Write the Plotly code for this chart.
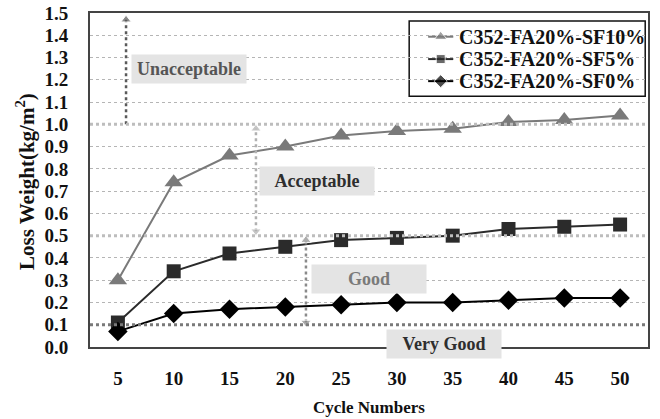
import plotly.graph_objects as go

cycles = [5, 10, 15, 20, 25, 30, 35, 40, 45, 50]
sf10 = [0.30, 0.74, 0.86, 0.90, 0.95, 0.97, 0.98, 1.01, 1.02, 1.04]
sf5 = [0.11, 0.34, 0.42, 0.45, 0.48, 0.49, 0.50, 0.53, 0.54, 0.55]
sf0 = [0.07, 0.15, 0.17, 0.18, 0.19, 0.20, 0.20, 0.21, 0.22, 0.22]
names = ["C352-FA20%-SF10%", "C352-FA20%-SF5%", "C352-FA20%-SF0%"]
y_ticks = [round(i * 0.1, 1) for i in range(16)]
thresholds = [1.0, 0.5, 0.1]
threshold_colors = ["#bdbdbd", "#bdbdbd", "#7a7a7a"]

# region labels: text, x-center, y-center, text colour
region_labels = ["Unacceptable", "Acceptable", "Good", "Very Good"]
region_x = [11.4, 22.8, 27.5, 34.2]
region_y = [1.25, 0.745, 0.305, 0.015]
region_col = ["#555555", "#2e2e2e", "#7a7a7a", "#2e2e2e"]

# dotted arrows: x, y-from, y-to, colour, heads
arrow_x = [5.73, 17.37, 21.85]
arrow_y0 = [1.0, 0.52, 0.11]
arrow_y1 = [1.47, 0.98, 0.48]
arrow_col = ["#5a5a5a", "#b0b0b0", "#8a8a8a"]
arrow_double = [False, True, True]

FONT = "Liberation Serif"
series_style = [
    ("triangle-up", "#7a7a7a", 16, 11),
    ("square", "#2b2b2b", 14, 9),
    ("diamond", "#000000", 15, 10),
]

fig = go.Figure()

for ys, nm, (sym, col, sz, _) in zip([sf10, sf5, sf0], names, series_style):
    fig.add_trace(go.Scatter(
        x=cycles, y=ys, name=nm, mode="lines+markers",
        line=dict(color=col, width=2),
        marker=dict(symbol=sym, size=sz, color=col),
        cliponaxis=False, showlegend=False,
    ))

for ax, a0, a1, c, dbl in zip(arrow_x, arrow_y0, arrow_y1, arrow_col, arrow_double):
    fig.add_trace(go.Scatter(
        x=[ax, ax], y=[a0, a1], mode="lines+markers", showlegend=False,
        line=dict(color=c, width=2.5, dash="dot"),
        marker=dict(symbol=["triangle-down" if dbl else "circle", "triangle-up"],
                    size=[9 if dbl else 0, 9], color=c),
        hoverinfo="skip",
    ))

for t, c in zip(thresholds, threshold_colors):
    fig.add_shape(type="line", xref="x domain", yref="y", x0=0, x1=1, y0=t, y1=t,
                  line=dict(color=c, width=3, dash="dot"), layer="above")

for txt, rx, ry, rc in zip(region_labels, region_x, region_y, region_col):
    fig.add_annotation(x=rx, y=ry, xref="x", yref="y", text=txt, showarrow=False,
                       bgcolor="#e4e4e4", width=110, height=24, borderpad=2,
                       font=dict(family=FONT, size=18, color=rc, weight="bold"))

# ---- hand-built legend (paper-fraction overlay axes) ----
leg_x0, leg_x1, leg_y0, leg_y1 = 0.572, 0.995, 0.751, 0.976
leg_rows = [0.929, 0.862, 0.796]
samp_x0, samp_x1, txt_x = 0.606, 0.651, 0.658
fig.add_shape(type="rect", xref="paper", yref="paper",
              x0=leg_x0, x1=leg_x1, y0=leg_y0, y1=leg_y1,
              line=dict(color="#111111", width=1.5), fillcolor="white", layer="between")
for nm, ry, (sym, col, _, lsz) in zip(names, leg_rows, series_style):
    fig.add_trace(go.Scatter(
        x=[samp_x0, (samp_x0 + samp_x1) / 2, samp_x1], y=[ry, ry, ry],
        xaxis="x2", yaxis="y2", mode="lines+markers", showlegend=False,
        line=dict(color=col, width=2),
        marker=dict(symbol=sym, size=[0, lsz, 0], color=col), hoverinfo="skip",
    ))
    fig.add_annotation(x=txt_x, y=ry, xref="paper", yref="paper", text=nm,
                       showarrow=False, xanchor="left", yanchor="middle",
                       font=dict(family=FONT, size=20, color="#111111", weight="bold"))

# axis titles
fig.add_annotation(x=0.5, y=-0.18, xref="paper", yref="paper", text="Cycle Numbers",
                   showarrow=False, xanchor="center", yanchor="middle",
                   font=dict(family=FONT, size=17, color="#111111", weight="bold"))
fig.add_annotation(x=-0.1165, y=0.497, xref="paper", yref="paper",
                   text="Loss Weight(kg/m<sup>2</sup>)", textangle=-90,
                   showarrow=False, xanchor="center", yanchor="middle",
                   font=dict(family=FONT, size=21, color="#111111", weight="bold"))

fig.update_layout(
    width=660, height=419,
    margin=dict(l=90, r=12, t=13, b=72, autoexpand=False),
    paper_bgcolor="white", plot_bgcolor="white",
    font=dict(family=FONT, size=19, color="#111111", weight="bold"),
    showlegend=False,
    xaxis=dict(range=[2.5, 52.5], tickvals=cycles, showgrid=False, zeroline=False,
               showline=True, linecolor="#444444", linewidth=2, mirror=True,
               ticks="", ticklabelstandoff=13, automargin=False),
    yaxis=dict(range=[0, 1.5], tickvals=y_ticks, tickformat=".1f",
               showgrid=True, gridcolor="#b5b5b5", griddash="dot", gridwidth=1,
               zeroline=False, showline=True, linecolor="#444444", linewidth=2, mirror=True,
               ticks="", ticklabelstandoff=16, automargin=False),
    xaxis2=dict(overlaying="x", range=[0, 1], visible=False, fixedrange=True),
    yaxis2=dict(overlaying="y", range=[0, 1], visible=False, fixedrange=True),
)

fig.write_html("out.html")
